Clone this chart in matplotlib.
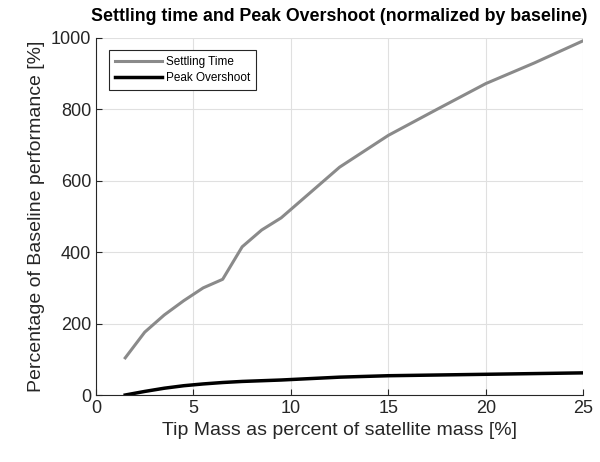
import matplotlib
matplotlib.use("Agg")
import matplotlib.pyplot as plt

plt.rcParams["font.family"] = ["Liberation Sans", "DejaVu Sans"]

tip_mass = [1.5, 2.5, 3.5, 4.5, 5.5, 6.5, 7.5, 8.5, 9.5, 12.5, 15, 17.5, 20, 22.5, 25]
settling = [104, 176, 224, 264, 300, 324, 415, 462, 496, 638, 727, 800, 872, 930, 992]
overshoot = [0, 10, 19, 26, 31, 35, 38, 40, 42, 50, 54, 56, 58, 60, 62]

fig = plt.figure(figsize=(6, 4.62), dpi=100)
ax = fig.add_axes([0.16, 0.145, 0.812, 0.773])

ax.plot(tip_mass, settling, color="#8a8a8a", lw=2.2, label="Settling Time")
ax.plot(tip_mass, overshoot, color="black", lw=2.5, label="Peak Overshoot")

ax.set_xlim(0, 25)
ax.set_ylim(0, 1000)
ax.set_xticks([0, 5, 10, 15, 20, 25])
ax.set_yticks([0, 200, 400, 600, 800, 1000])
ax.grid(True, color="#e0e0e0", lw=0.8)
ax.set_axisbelow(True)
ax.tick_params(direction="in", labelsize=13, length=4, color="#262626", labelcolor="#262626")
ax.spines["top"].set_visible(False)
ax.spines["right"].set_visible(False)
for s in ("left", "bottom"):
    ax.spines[s].set_color("#262626")
    ax.spines[s].set_linewidth(0.8)

ax.set_xlabel("Tip Mass as percent of satellite mass [%]", fontsize=14, color="#262626")
ax.set_ylabel("Percentage of Baseline performance [%]", fontsize=14, color="#262626")
ax.set_title("Settling time and Peak Overshoot (normalized by baseline)", fontsize=12.8,
             fontweight="bold", pad=12)

leg = ax.legend(loc="upper left", bbox_to_anchor=(0.027, 0.966), borderaxespad=0,
                fontsize=8.5, fancybox=False, framealpha=1, edgecolor="#262626",
                handlelength=4.0, handletextpad=0.3, borderpad=0.5, labelspacing=0.35)
leg.get_frame().set_linewidth(0.8)

fig.savefig("out.png", dpi=100)
